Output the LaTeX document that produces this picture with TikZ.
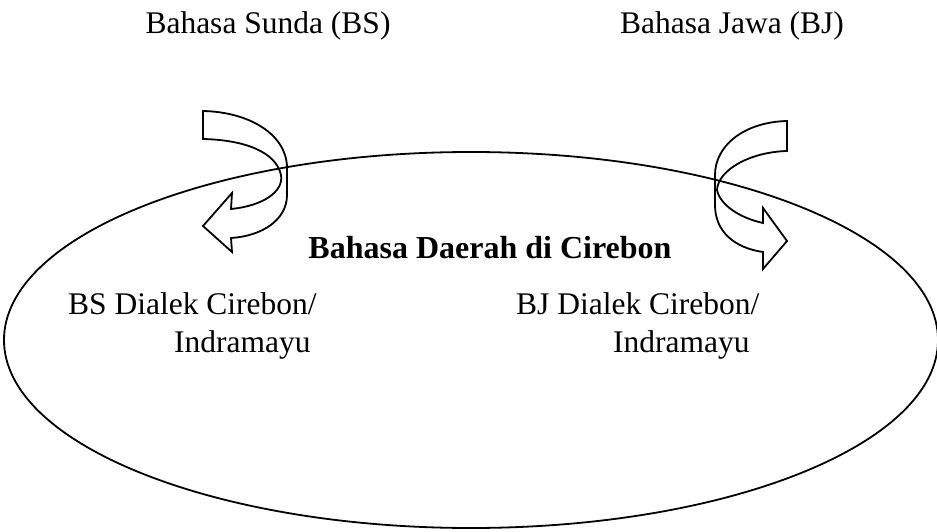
\documentclass[tikz,border=0pt]{standalone}
\usepackage{fontspec}
\setmainfont{Liberation Serif}
\begin{document}
\begin{tikzpicture}[x=1pt,y=-1pt,
  label text/.style={inner sep=0pt,font=\fontsize{31.5}{37}\selectfont},
  outline/.style={line width=1.8pt,line join=miter}]
\useasboundingbox (0,0) rectangle (937,532);

% language labels
\node[label text,anchor=base] (bs) at (268,34) {Bahasa Sunda (BS)};
\node[label text,anchor=base] (bj) at (732,34) {Bahasa Jawa (BJ)};

% region
\draw[outline] (471,340) ellipse [x radius=467, y radius=188];
\node[label text,anchor=base,font=\fontsize{32}{37}\selectfont\bfseries] (region) at (490,258) {Bahasa Daerah di Cirebon};

\node[label text,anchor=base west] (bsd1) at (68,314) {BS Dialek Cirebon/};
\node[label text,anchor=base west] (bsd2) at (174,352) {Indramayu};
\node[label text,anchor=base west] (bjd1) at (516,314) {BJ Dialek Cirebon/};
\node[label text,anchor=base west] (bjd2) at (613,352) {Indramayu};

% curved arrow from Sunda into the region
\draw[outline] (203,111) .. controls (250,112) and (287,135) .. (287,168)
  -- (287,195) .. controls (287,220) and (262,236) .. (231,238)
  -- (232,252) -- (203,226) -- (232,193) -- (231,209)
  .. controls (262,206) and (284,192) .. (281,175)
  .. controls (276,152) and (245,140) .. (203,139) -- cycle;

% curved arrow from Jawa into the region
\draw[outline] (787,121) .. controls (745,122) and (715,145) .. (715,175)
  -- (715,205) .. controls (715,232) and (735,248) .. (763,252)
  -- (763,269) -- (787,241) -- (763,208) -- (763,223)
  .. controls (740,218) and (720,205) .. (717,190)
  .. controls (718,170) and (750,152) .. (787,151) -- cycle;
\end{tikzpicture}
\end{document}
